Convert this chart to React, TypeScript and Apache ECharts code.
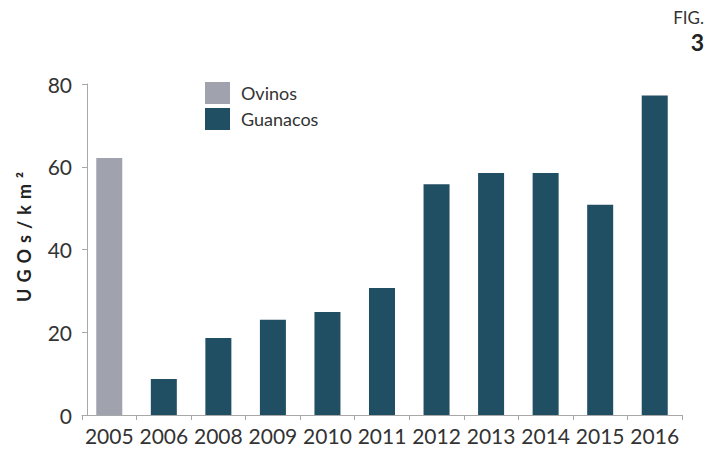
import React, { useEffect, useRef } from "react";
import * as echarts from "echarts";

const years = ["2005", "2006", "2008", "2009", "2010", "2011", "2012", "2013", "2014", "2015", "2016"];
const ovinos = [62.1, null, null, null, null, null, null, null, null, null, null];
const guanacos = [null, 8.7, 18.6, 23.0, 24.9, 30.7, 55.8, 58.5, 58.5, 50.8, 77.2];
const yTicks = { min: 0, max: 80, interval: 20 };
const yName = "U\u2004G\u2004O\u2004s\u2004/\u2004k\u2004m\u2004²";

export default function App() {
  const ref = useRef<HTMLDivElement>(null);
  useEffect(() => {
    const chart = echarts.init(ref.current!, null, { renderer: "svg" });
    const font = "Lato, 'Noto Sans', sans-serif";
    chart.setOption({
      animation: false,
      textStyle: { fontFamily: font },
      grid: { left: 82, right: 38, top: 84, bottom: 37 },
      legend: {
        orient: "vertical",
        left: 200,
        top: 77,
        icon: "rect",
        itemWidth: 25,
        itemHeight: 22,
        itemGap: 4,
        textStyle: { fontSize: 18, color: "#333", fontFamily: font, padding: [0, 0, 0, 6] },
        data: ["Ovinos", "Guanacos"],
      },
      xAxis: {
        type: "category",
        data: years,
        axisLine: { lineStyle: { color: "#a8a8a8", width: 1 } },
        axisTick: { show: true, length: 5, lineStyle: { color: "#a8a8a8" } },
        axisLabel: { fontSize: 21, color: "#333", margin: 10, fontFamily: font, interval: 0 },
      },
      yAxis: {
        type: "value",
        min: yTicks.min,
        max: yTicks.max,
        interval: yTicks.interval,
        offset: -5,
        splitLine: { show: false },
        axisLine: { show: true, lineStyle: { color: "#a8a8a8", width: 1 } },
        axisTick: { show: true, length: 5, lineStyle: { color: "#a8a8a8" } },
        axisLabel: { fontSize: 21, color: "#333", margin: 15, fontFamily: font },
      },
      series: [
        {
          name: "Ovinos",
          type: "bar",
          data: ovinos,
          barWidth: 26,
          barGap: "-100%",
          itemStyle: { color: "#a0a2ae" },
        },
        {
          name: "Guanacos",
          type: "bar",
          data: guanacos,
          barWidth: 26,
          itemStyle: { color: "#204e63" },
        },
      ],
      graphic: [
        {
          type: "text",
          x: 24,
          y: 237,
          rotation: Math.PI / 2,
          style: {
            text: yName,
            fontSize: 18,
            fontWeight: "bold",
            fill: "#222",
            fontFamily: font,
            align: "center",
            verticalAlign: "middle",
          },
        },
        {
          type: "text",
          right: 16,
          top: 9,
          style: { text: "FIG.", fontSize: 17, fill: "#333", fontFamily: font },
        },
        {
          type: "text",
          right: 16,
          top: 30,
          style: { text: "3", fontSize: 23, fontWeight: "bold", fill: "#222", fontFamily: font },
        },
      ],
    });
    return () => chart.dispose();
  }, []);
  return <div ref={ref} style={{ width: 720, height: 452, position: "absolute", left: 0, top: 0 }} />;
}
